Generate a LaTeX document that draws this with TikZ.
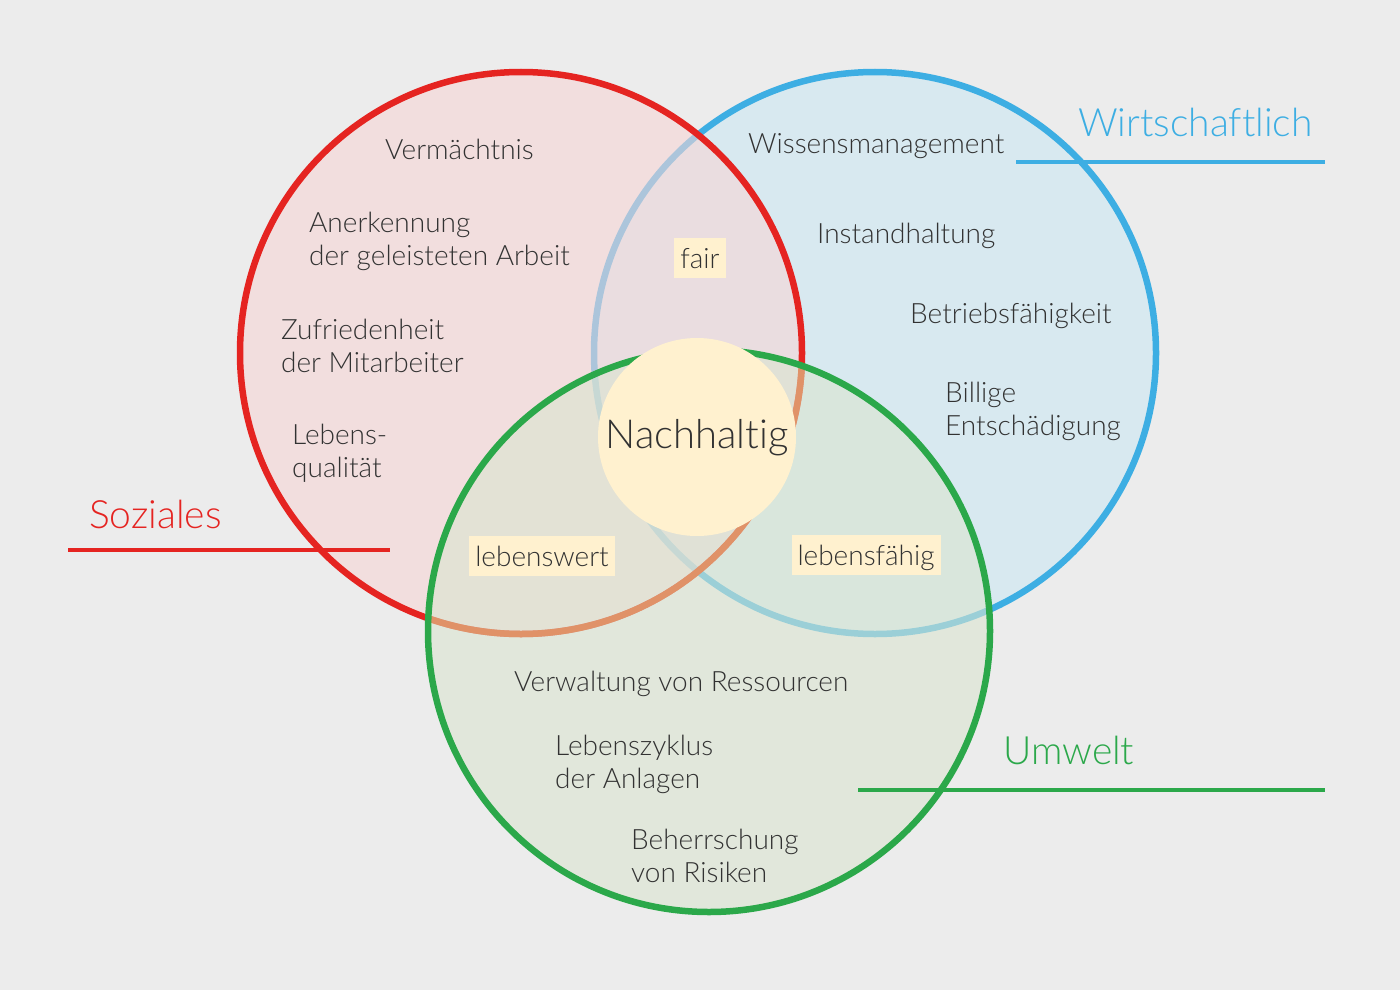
\documentclass[tikz,border=0pt]{standalone}
\usepackage{fontspec}
\setmainfont{Lato Light}[Ligatures={NoCommon}]
\begin{document}
\begin{tikzpicture}[x=1pt,y=-1pt,
  ring/.style={line width=6.5pt, fill opacity=0.6},
  txt/.style={anchor=west, inner sep=0pt, text=textgray, font=\fontsize{28}{33}\selectfont, align=left},
  tag/.style={fill=yellowc, inner xsep=6pt, inner ysep=0pt, text height=30pt, text depth=10pt, text=textgray, font=\fontsize{28}{33}\selectfont},
  title/.style={anchor=west, inner sep=0pt, font=\fontsize{39}{48}\selectfont},
  rule/.style={line width=4.5pt}]
\definecolor{bg}{RGB}{236,236,236}
\definecolor{redc}{RGB}{229,36,33}
\definecolor{bluec}{RGB}{61,174,227}
\definecolor{greenc}{RGB}{43,168,74}
\definecolor{redf}{RGB}{246,213,214}
\definecolor{bluef}{RGB}{204,231,244}
\definecolor{greenf}{RGB}{218,229,208}
\definecolor{orangec}{RGB}{224,146,104}
\definecolor{yellowc}{RGB}{255,241,207}
\definecolor{textgray}{RGB}{50,50,50}
\fill[bg] (0,0) rectangle (1400,990);
\useasboundingbox (0,0) rectangle (1400,990);
% circles
\draw[ring, draw=bluec, fill=bluef] (875,353) circle (281);
\draw[ring, draw=redc, fill=redf] (521,353) circle (281);
\fill[greenf, fill opacity=0.6] (709,631) circle (281);
\begin{scope}
  \clip (709,631) circle (281);
  \draw[line width=6.5pt, orangec] (521,353) circle (281);
\end{scope}
\draw[line width=6.5pt, greenc] (709,631) circle (281);
\node[circle, fill=yellowc, minimum size=198pt, inner sep=0pt] (core) at (697,437) {};
\node[inner sep=0pt, text=textgray, font=\fontsize{40}{48}\selectfont] (nach) at (697,438) {Nachhaltig};
% social texts
\node[txt] (t1) at (385,149) {Vermächtnis};
\node[txt] (t2) at (309,241) {Anerkennung\\der geleisteten Arbeit};
\node[txt] (t3) at (281,346) {Zufriedenheit\\der Mitarbeiter};
\node[txt] (t4) at (292,453) {Lebens-\\qualität};
% economic texts
\node[txt] (e1) at (748,146) {Wissensmanagement};
\node[txt] (e2) at (817,236) {Instandhaltung};
\node[txt] (e3) at (910,316) {Betriebsfähigkeit};
\node[txt] (e4) at (945,411) {Billige\\Entschädigung};
% environmental texts
\node[txt] (u1) at (514,684) {Verwaltung von Ressourcen};
\node[txt] (u2) at (555,764) {Lebenszyklus\\der Anlagen};
\node[txt] (u3) at (631,856) {Beherrschung\\von Risiken};
% tags
\node[tag] (fair) at (700,258) {fair};
\node[tag] (lw) at (542,556) {lebenswert};
\node[tag] (lf) at (866,555) {lebensfähig};
% titles and rules
\node[title, text=redc] (soz) at (89,514) {Soziales};
\coordinate (s1) at (68,550); \coordinate (s2) at (390,550);
\draw[rule, redc] (s1) -- (s2);
\node[title, text=bluec] (wir) at (1078,122) {Wirtschaftlich};
\coordinate (w1) at (1016,162); \coordinate (w2) at (1325,162);
\draw[rule, bluec] (w1) -- (w2);
\node[title, text=greenc] (umw) at (1003,750) {Umwelt};
\coordinate (g1) at (858,790); \coordinate (g2) at (1325,790);
\draw[rule, greenc] (g1) -- (g2);
\end{tikzpicture}
\end{document}
